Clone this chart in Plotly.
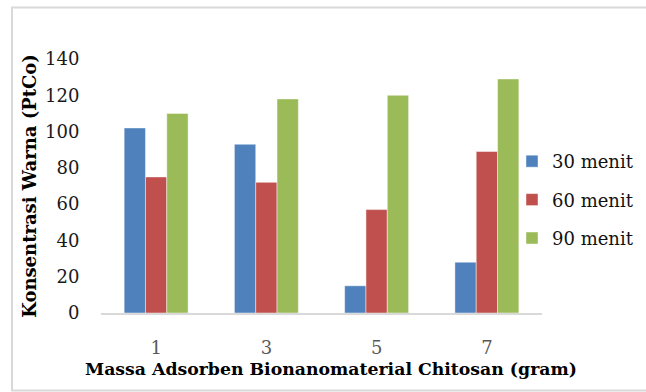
import plotly.graph_objects as go

# Adsorbent mass (gram) and colour concentration (PtCo) per contact time
massa = ["1", "3", "5", "7"]
menit_30 = [102, 93, 15, 28]
menit_60 = [75, 72, 57, 89]
menit_90 = [110, 118, 120, 129]
series_names = ["30 menit", "60 menit", "90 menit"]
series_colors = ["#4f81bd", "#c0504d", "#9bbb59"]
y_ticks = [0, 20, 40, 60, 80, 100, 120, 140]

W, H = 646, 392
ML, MR, MT, MB = 101, 104, 59, 79
plot_w = W - ML - MR
plot_h = H - MT - MB

fig = go.Figure()
for name, vals, col in zip(series_names, [menit_30, menit_60, menit_90], series_colors):
    fig.add_trace(go.Bar(
        x=massa, y=vals, name=name, legendgroup=name,
        marker=dict(color=col, line=dict(color="rgba(255,255,255,0.45)", width=1)),
    ))

serif = "DejaVu Serif"

def px_to_paper_x(px):
    return (px - ML) / plot_w

def px_to_paper_y(py):
    return (H - MB - py) / plot_h

# light frame around the chart area
fig.add_shape(type="rect", xref="paper", yref="paper",
              x0=px_to_paper_x(12), x1=px_to_paper_x(660),
              y0=px_to_paper_y(390.5), y1=px_to_paper_y(7.5),
              line=dict(color="#d9d9d9", width=2), fillcolor="rgba(0,0,0,0)", layer="below")

# x-axis title, centred on the chart frame
fig.add_annotation(
    text="<b>Massa Adsorben Bionanomaterial Chitosan (gram)</b>",
    xref="paper", yref="paper", x=px_to_paper_x(330.5), y=px_to_paper_y(369),
    xanchor="center", yanchor="middle", showarrow=False,
    font=dict(family=serif, size=17.3, color="#000000"),
)

fig.update_layout(
    width=W, height=H,
    margin=dict(l=ML, r=MR, t=MT, b=MB, pad=0, autoexpand=False),
    paper_bgcolor="white", plot_bgcolor="white",
    barmode="group", bargap=0.42, bargroupgap=0,
    font=dict(family=serif, size=18, color="#222222"),
    legend=dict(
        x=px_to_paper_x(512), xanchor="left",
        y=px_to_paper_y(143), yanchor="top",
        font=dict(family=serif, size=18, color="#111111"),
        tracegroupgap=12, bgcolor="rgba(0,0,0,0)", borderwidth=0,
    ),
    xaxis=dict(
        type="category", showgrid=False, zeroline=False,
        showline=True, linecolor="#d9d9d9", linewidth=2,
        ticks="outside", ticklen=17, tickcolor="rgba(0,0,0,0)",
        tickfont=dict(family=serif, size=18, color="#595959"),
    ),
    yaxis=dict(
        range=[0, 140], tickvals=y_ticks, showgrid=False, zeroline=False,
        showline=False,
        ticks="outside", ticklen=17, tickcolor="rgba(0,0,0,0)",
        tickfont=dict(family=serif, size=18, color="#1a1a1a"),
        title=dict(text="<b>Konsentrasi Warna (PtCo)</b>",
                   font=dict(family=serif, size=18, color="#000000"), standoff=3),
    ),
)

fig.write_html("out.html")
